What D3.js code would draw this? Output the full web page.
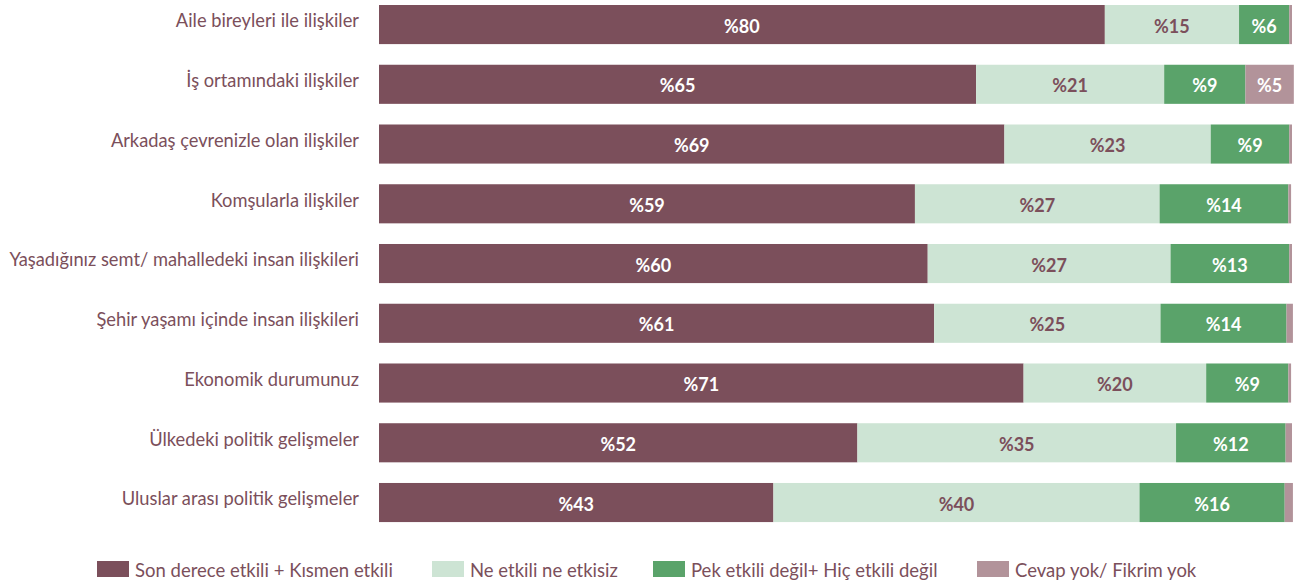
<!DOCTYPE html>
<html>
<head>
<meta charset="utf-8">
<script src="https://cdn.jsdelivr.net/npm/d3@7"></script>
<style>
  body { margin: 0; background: #fff; }
  svg { display: block; font-family: Lato, "Open Sans", sans-serif; }
</style>
</head>
<body>
<div id="chart"></div>
<script>
const categories = [
    "Aile bireyleri ile ilişkiler",
    "İş ortamındaki ilişkiler",
    "Arkadaş çevrenizle olan ilişkiler",
    "Komşularla ilişkiler",
    "Yaşadığınız semt/ mahalledeki insan ilişkileri",
    "Şehir yaşamı içinde insan ilişkileri",
    "Ekonomik durumunuz",
    "Ülkedeki politik gelişmeler",
    "Uluslar arası politik gelişmeler"
]
const seriesNames = [
    "Son derece etkili + Kısmen etkili",
    "Ne etkili ne etkisiz",
    "Pek etkili değil+ Hiç etkili değil",
    "Cevap yok/ Fikrim yok"
]
const etkili = [79.5, 65.4, 68.5, 58.7, 60.1, 60.8, 70.6, 52.4, 43.2]
const notr = [14.7, 20.6, 22.6, 26.8, 26.6, 24.8, 20.0, 34.9, 40.1]
const etkisiz = [5.5, 8.9, 8.6, 14.1, 13.0, 13.8, 9.0, 12.0, 15.9]
const cevapYok = [0.3, 5.3, 0.3, 0.3, 0.3, 0.7, 0.3, 0.7, 0.9]
const colors = ["#7b4f5b", "#cde4d4", "#5aa36a", "#b2939a"]
const labelColors = ["#ffffff", "#7b4f5b", "#ffffff", "#ffffff"]

const width = 1297
const height = 587
const barLeft = 379
const barRight = 1292

const table = categories.map((c, i) => ({
    cat: c,
    s0: etkili[i], s1: notr[i], s2: etkisiz[i], s3: cevapYok[i]
}))
const keys = ["s0", "s1", "s2", "s3"]
const stacked = d3.stack().keys(keys)(table)

const svg = d3.select("#chart")
    .append("svg")
    .attr("width", width)
    .attr("height", height)

const xScale = d3.scaleLinear()
    .domain([0, 100])
    .range([barLeft, barRight])

const yScale = d3.scaleBand()
    .domain(categories)
    .range([-5.32, 532.4])
    .paddingInner(0.3456)
    .paddingOuter(0.1728)

const layers = svg.append("g")
    .selectAll("g")
    .data(stacked)
    .join("g")
    .attr("fill", (d, i) => colors[i])

layers.selectAll("rect")
    .data(d => d)
    .join("rect")
    .attr("x", d => xScale(d[0]))
    .attr("y", d => yScale(d.data.cat))
    .attr("width", d => xScale(d[1]) - xScale(d[0]))
    .attr("height", yScale.bandwidth())

// value labels, only on segments wide enough
stacked.forEach((layer, li) => {
    svg.append("g")
        .selectAll("text")
        .data(layer.filter(d => d[1] - d[0] >= 3))
        .join("text")
        .attr("x", d => (xScale(d[0]) + xScale(d[1])) / 2)
        .attr("y", d => yScale(d.data.cat) + yScale.bandwidth() / 2)
        .attr("dy", "0.45em")
        .attr("text-anchor", "middle")
        .attr("fill", labelColors[li])
        .style("font-size", "18px")
        .style("font-weight", "bold")
        .text(d => "%" + Math.round(d[1] - d[0]))
})

// category labels
const yAxis = d3.axisLeft(yScale).tickSize(0).tickPadding(20)
const yAxisG = svg.append("g")
    .attr("transform", `translate(${barLeft},0)`)
    .call(yAxis)
yAxisG.select(".domain").remove()
yAxisG.selectAll("text")
    .attr("fill", "#7b4f5b")
    .attr("dy", "0.15em")
    .style("font-size", "18.3px")
    .style("font-family", "Lato, sans-serif")

// legend
const legendX = [97, 432, 653, 977]
const legend = svg.append("g")
    .attr("transform", "translate(0,561)")
const items = legend.selectAll("g")
    .data(seriesNames)
    .join("g")
    .attr("transform", (d, i) => `translate(${legendX[i]},0)`)
items.append("rect")
    .attr("width", 32)
    .attr("height", 16)
    .attr("fill", (d, i) => colors[i])
items.append("text")
    .attr("x", 38)
    .attr("y", 16)
    .attr("fill", "#7b4f5b")
    .style("font-size", "18.5px")
    .text(d => d)
</script>
</body>
</html>
